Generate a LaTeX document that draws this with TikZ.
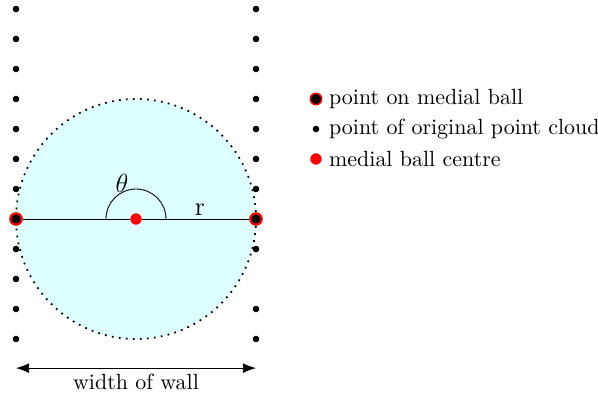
\documentclass[tikz,border=0pt]{standalone}
\usepackage{amsmath,amssymb}
\usepackage{tikz}
\usetikzlibrary{arrows.meta}

\definecolor{ballfill}{RGB}{222,255,255}

\begin{document}
\begin{tikzpicture}[x=0.48cm,y=0.48cm,
  cloudpt/.style={circle,fill=black,inner sep=0pt,minimum size=3pt},
  centrept/.style={circle,fill=red,inner sep=0pt,minimum size=5.2pt},
  ballpt/.style={circle,fill=black,draw=red,line width=1pt,inner sep=0pt,minimum size=5.2pt},
  legtext/.style={anchor=west,inner sep=1pt}]
 \useasboundingbox (-0.533,-5.833) rectangle (19.4,7.3);
 % ball
 \fill[ballfill] (4,0) circle (4);
 \draw[line width=0.8pt,dash pattern=on 0.8pt off 2.4pt] (4,0) circle (4);
 % wall points
 \foreach \y in {1,...,7,-1,-2,-3,-4}
   \node[cloudpt] (L\y) at (0,\y) {};
 \foreach \y in {1,...,7,-1,-3,-4}
   \node[cloudpt] (R\y) at (8,\y) {};
 % radius and angle
 \node[ballpt] (left) at (0,0) {};
 \node[ballpt] (right) at (8,0) {};
 \node[centrept] (centre) at (4,0) {};
 \draw (left) -- (centre) -- (right);
 \draw (5,0) arc (0:180:1);
 \node (theta) at (3.53,1.2) {\large$\theta$};
 \node (r) at (6.13,0.3) {\large r};
 % width of wall
 \coordinate (wl) at (0,-4.97);
 \coordinate (wr) at (8,-4.97);
 \draw[{Latex[length=6pt,width=4.5pt]}-{Latex[length=6pt,width=4.5pt]}] (wl) -- (wr)
   node[midway,below=-1pt] (wlab) {width of wall};
 % legend
 \node[ballpt,line width=0.7pt] (k1) at (10,4) {};
 \node[legtext] at (10.35,4) {point on medial ball};
 \node[cloudpt] (k2) at (10,3) {};
 \node[legtext] at (10.35,3) {point of original point cloud};
 \node[centrept] (k3) at (10,2) {};
 \node[legtext] at (10.35,2) {medial ball centre};
\end{tikzpicture}
\end{document}
